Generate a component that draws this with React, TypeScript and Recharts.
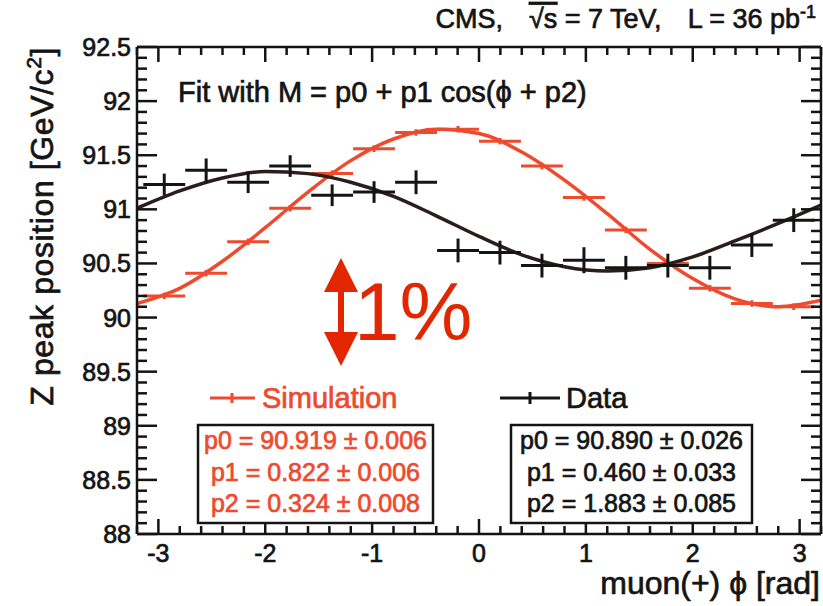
import { ComposedChart, Line, Scatter, ErrorBar, XAxis, YAxis } from "recharts";

// 16 bins in phi, centre of each bin
const phiBins = [
  -2.945, -2.553, -2.16, -1.767, -1.374, -0.982, -0.589, -0.196,
  0.196, 0.589, 0.982, 1.374, 1.767, 2.16, 2.553, 2.945,
];
const binHalfWidth = 0.196;

// Z peak position (GeV/c^2)
const dataPeak = [
  91.23, 91.36, 91.25, 91.4, 91.13, 91.16, 91.25, 90.62,
  90.6, 90.48, 90.53, 90.46, 90.48, 90.46, 90.67, 90.9,
];
const dataErr = [
  0.1, 0.11, 0.1, 0.1, 0.1, 0.1, 0.11, 0.11,
  0.11, 0.11, 0.12, 0.11, 0.11, 0.11, 0.11, 0.11,
];
const simPeak = [
  90.2, 90.41, 90.7, 91.01, 91.33, 91.56, 91.71, 91.74,
  91.63, 91.4, 91.11, 90.81, 90.5, 90.27, 90.13, 90.1,
];
const simErr = [
  0.03, 0.03, 0.03, 0.03, 0.03, 0.03, 0.03, 0.03,
  0.03, 0.03, 0.03, 0.03, 0.03, 0.03, 0.03, 0.03,
];

// fitted curves, read at steps of 0.4 rad
const fitPhi = [
  -3.2, -2.8, -2.4, -2.0, -1.6, -1.2, -0.8, -0.4, 0,
  0.4, 0.8, 1.2, 1.6, 2.0, 2.4, 2.8, 3.2,
];
const dataFit = [
  91.01, 91.17, 91.29, 91.35, 91.33, 91.25, 91.12, 90.94, 90.75,
  90.58, 90.47, 90.43, 90.46, 90.56, 90.71, 90.87, 91.04,
];
const simFit = [
  90.13, 90.27, 90.52, 90.83, 91.16, 91.45, 91.65, 91.74, 91.7,
  91.53, 91.27, 90.96, 90.63, 90.36, 90.17, 90.1, 90.16,
];

const simParams = ["p0 = 90.919 ± 0.006", "p1 = 0.822 ± 0.006", "p2 = 0.324 ± 0.008"];
const dataParams = ["p0 = 90.890 ± 0.026", "p1 = 0.460 ± 0.033", "p2 = 1.883 ± 0.085"];

const xTicks = Array.from({ length: 33 }, (_, i) => (i - 16) / 5);
const yTicks = Array.from({ length: 46 }, (_, i) => 88 + i / 10);

const FONT = '"Liberation Sans", Arial, Helvetica, sans-serif';
const INK = "#141414";
const RED = "#ee4a2e";
const ARROW = "#e22600";
const AXIS_W = 2.5;

const dataPoints = phiBins.map((x, i) => ({ x, m: dataPeak[i], ex: binHalfWidth, em: dataErr[i] }));
const simPoints = phiBins.map((x, i) => ({ x, m: simPeak[i], ex: binHalfWidth, em: simErr[i] }));
const dataCurve = fitPhi.map((x, i) => ({ x, m: dataFit[i] }));
const simCurve = fitPhi.map((x, i) => ({ x, m: simFit[i] }));

const isMajorX = (v: number) => Math.round(v * 5) % 5 === 0;
const isMajorY = (v: number) => Math.round(v * 10) % 5 === 0;
const fmtY = (v: number) => {
  const r = Math.round(v * 10) / 10;
  return Number.isInteger(r) ? String(r) : r.toFixed(1);
};

// heavy-ish text, like the blurry ROOT export
const heavy = (c: string) => ({ fill: c, stroke: c, strokeWidth: 0.7 });

const BottomTick = (p: any) => {
  const v = p.payload.value;
  const major = isMajorX(v);
  return (
    <g>
      <line x1={p.x} y1={p.y} x2={p.x} y2={p.y - (major ? 15 : 8)} stroke={INK} strokeWidth={AXIS_W} />
      {major && (
        <text x={p.x} y={p.y + 28} textAnchor="middle" fontSize={25} fontFamily={FONT} {...heavy(INK)}>
          {Math.round(v)}
        </text>
      )}
    </g>
  );
};

const TopTick = (p: any) => {
  const major = isMajorX(p.payload.value);
  return <line x1={p.x} y1={p.y} x2={p.x} y2={p.y + (major ? 15 : 8)} stroke={INK} strokeWidth={AXIS_W} />;
};

const LeftTick = (p: any) => {
  const v = p.payload.value;
  const major = isMajorY(v);
  return (
    <g>
      <line x1={p.x} y1={p.y} x2={p.x + (major ? 20 : 10)} y2={p.y} stroke={INK} strokeWidth={AXIS_W} />
      {major && (
        <text x={p.x - 6} y={p.y + 9} textAnchor="end" fontSize={25} fontFamily={FONT} {...heavy(INK)}>
          {fmtY(v)}
        </text>
      )}
    </g>
  );
};

const RightTick = (p: any) => {
  const major = isMajorY(p.payload.value);
  return <line x1={p.x} y1={p.y} x2={p.x - (major ? 20 : 10)} y2={p.y} stroke={INK} strokeWidth={AXIS_W} />;
};

const noShape = () => <g />;

const axisLine = { stroke: INK, strokeWidth: AXIS_W };

const Overlay = () => (
  <svg
    width={823}
    height={606}
    style={{ position: "absolute", left: 0, top: 0, pointerEvents: "none" }}
    fontFamily={FONT}
  >
    <text x={816} y={28} textAnchor="end" fontSize={27} {...heavy(INK)}>
      CMS,
      <tspan dx={26} textDecoration="overline">√s</tspan> = 7 TeV,
      <tspan dx={26}>L = 36 pb</tspan>
      <tspan dy={-10} fontSize={18}>-1</tspan>
    </text>
    <text x={178} y={102} fontSize={29} {...heavy(INK)}>
      Fit with M = p0 + p1 cos(ϕ + p2)
    </text>

    <text transform="translate(53,47) rotate(-90)" textAnchor="end" fontSize={32} letterSpacing={0.6} {...heavy(INK)}>
      Z peak position [GeV/c<tspan dy={-12} fontSize={21}>2</tspan>
      <tspan dy={12}>]</tspan>
    </text>
    <text x={820} y={594} textAnchor="end" fontSize={32} {...heavy(INK)}>
      muon(+) ϕ [rad]
    </text>

    {/* 1% scale arrow */}
    <polygon
      points="341,258 358,292 344,292 344,332 358,332 341,366 324,332 338,332 338,292 324,292"
      fill={ARROW}
    />
    <text x={354} y={340} fontSize={82} fill={ARROW}>
      1%
    </text>

    {/* legends */}
    <line x1={210} y1={398} x2={255} y2={398} stroke={RED} strokeWidth={3} />
    <line x1={232} y1={393} x2={232} y2={403} stroke={RED} strokeWidth={3} />
    <text x={262} y={408} fontSize={29} {...heavy(RED)}>
      Simulation
    </text>
    <line x1={500} y1={398} x2={560} y2={398} stroke={INK} strokeWidth={3} />
    <line x1={530} y1={392} x2={530} y2={404} stroke={INK} strokeWidth={3} />
    <text x={566} y={408} fontSize={29} {...heavy(INK)}>
      Data
    </text>

    <rect x={198} y={425} width={235} height={98} fill="#fff" stroke={INK} strokeWidth={2.5} />
    {simParams.map((s, i) => (
      <text key={s} x={315.5} y={449 + i * 31.5} textAnchor="middle" fontSize={25} {...heavy(RED)}>
        {s}
      </text>
    ))}
    <rect x={511} y={425} width={241} height={98} fill="#fff" stroke={INK} strokeWidth={2.5} />
    {dataParams.map((s, i) => (
      <text key={s} x={631.5} y={449 + i * 31.5} textAnchor="middle" fontSize={25} {...heavy(INK)}>
        {s}
      </text>
    ))}
  </svg>
);

const App = () => {
  return (
    <div style={{ position: "absolute", left: 0, top: 0, width: 823, height: 606, background: "#fff" }}>
      <ComposedChart width={823} height={606} margin={{ top: 46, right: 1, bottom: 71, left: 136 }}>
        <XAxis
          xAxisId="b"
          dataKey="x"
          type="number"
          domain={[-3.2, 3.2]}
          allowDataOverflow
          ticks={xTicks}
          interval={0}
          tickSize={0}
          tickMargin={0}
          tickLine={false}
          tick={(p: any) => <BottomTick {...p} />}
          axisLine={axisLine}
          height={1}
        />
        <XAxis
          xAxisId="t"
          orientation="top"
          dataKey="x"
          type="number"
          domain={[-3.2, 3.2]}
          allowDataOverflow
          ticks={xTicks}
          interval={0}
          tickSize={0}
          tickMargin={0}
          tickLine={false}
          tick={(p: any) => <TopTick {...p} />}
          axisLine={axisLine}
          height={1}
        />
        <YAxis
          yAxisId="l"
          dataKey="m"
          type="number"
          domain={[88, 92.5]}
          allowDataOverflow
          ticks={yTicks}
          interval={0}
          tickSize={0}
          tickMargin={0}
          tickLine={false}
          tick={(p: any) => <LeftTick {...p} />}
          axisLine={axisLine}
          width={1}
        />
        <YAxis
          yAxisId="r"
          orientation="right"
          dataKey="m"
          type="number"
          domain={[88, 92.5]}
          allowDataOverflow
          ticks={yTicks}
          interval={0}
          tickSize={0}
          tickMargin={0}
          tickLine={false}
          tick={(p: any) => <RightTick {...p} />}
          axisLine={axisLine}
          width={1}
        />

        <Line
          xAxisId="b"
          yAxisId="l"
          data={simCurve}
          dataKey="m"
          type="monotone"
          stroke={RED}
          strokeWidth={3.5}
          dot={false}
          isAnimationActive={false}
        />
        <Scatter xAxisId="b" yAxisId="l" data={simPoints} dataKey="m" shape={noShape} isAnimationActive={false}>
          <ErrorBar dataKey="ex" direction="x" width={0} stroke={RED} strokeWidth={3} isAnimationActive={false} />
          <ErrorBar dataKey="em" direction="y" width={0} stroke={RED} strokeWidth={3} isAnimationActive={false} />
        </Scatter>
        <Line
          xAxisId="b"
          yAxisId="l"
          data={dataCurve}
          dataKey="m"
          type="monotone"
          stroke="#2a1d1a"
          strokeWidth={3.5}
          dot={false}
          isAnimationActive={false}
        />
        <Scatter xAxisId="b" yAxisId="l" data={dataPoints} dataKey="m" shape={noShape} isAnimationActive={false}>
          <ErrorBar dataKey="ex" direction="x" width={0} stroke={INK} strokeWidth={3} isAnimationActive={false} />
          <ErrorBar dataKey="em" direction="y" width={0} stroke={INK} strokeWidth={3} isAnimationActive={false} />
        </Scatter>
      </ComposedChart>
      <Overlay />
    </div>
  );
};

export default App;
